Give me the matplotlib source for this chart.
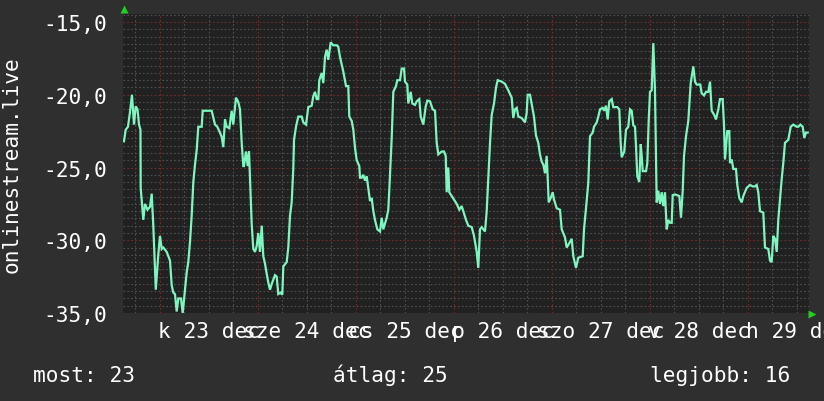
import numpy as np
import matplotlib
matplotlib.use("Agg")
import matplotlib.pyplot as plt
from matplotlib.ticker import FuncFormatter
from matplotlib.transforms import offset_copy

# hours relative to Dec 23 00:00
hours = [
    -8.82, -8.40, -7.84, -7.35, -6.86, -6.37, -5.95, -5.51, -5.14, -4.78, -4.73,
    -4.09, -3.67, -3.06, -2.45, -2.03, -1.64, -1.03, -0.42, 0.00, 0.42, 0.81,
    1.64, 2.45, 2.87, 3.26, 3.67, 4.09, 4.48, 5.14, 5.56, 6.12, 6.54, 6.93,
    7.35, 7.76, 8.16, 8.57, 8.99, 9.38, 10.21, 10.46, 12.66, 13.47, 14.03,
    14.69, 15.11, 15.50, 15.92, 16.33, 16.97, 17.56, 17.95, 18.61, 19.18,
    19.59, 20.01, 20.40, 20.57, 21.06, 21.48, 21.80, 22.46, 22.85, 23.27,
    23.68, 24.07, 24.49, 24.91, 25.30, 25.71, 26.13, 26.52, 26.94, 27.36,
    27.75, 28.16, 28.58, 28.97, 29.56, 29.95, 30.20, 31.03, 31.42, 31.84,
    32.25, 32.64, 32.82, 33.31, 33.87, 34.70, 35.09, 35.76, 36.32, 37.15,
    37.54, 37.96, 38.38, 38.77, 39.01, 39.60, 39.99, 40.41, 40.82, 41.22,
    41.80, 42.44, 43.27, 43.66, 44.08, 44.89, 45.55, 46.11, 46.36, 46.95,
    47.34, 47.76, 48.17, 48.81, 48.98, 49.40, 49.79, 50.20, 50.62, 51.01,
    51.43, 51.85, 52.24, 52.65, 53.22, 53.88, 54.30, 54.69, 55.52, 55.91,
    56.16, 56.74, 57.14, 57.80, 58.11, 58.78, 59.19, 59.76, 60.00, 60.56,
    60.81, 61.40, 61.79, 62.45, 62.87, 63.50, 63.85, 64.48, 65.07, 65.47,
    66.12, 66.78, 67.35, 67.76, 68.16, 68.99, 69.55, 69.97, 70.21, 70.60,
    70.85, 71.44, 72.00, 72.66, 73.30, 73.89, 74.28, 74.94, 75.50, 76.34,
    76.90, 77.56, 77.95, 78.37, 78.78, 79.59, 80.01, 80.40, 80.82, 81.23,
    81.80, 82.29, 82.70, 83.68, 84.49, 85.30, 86.13, 86.52, 86.94, 87.36,
    87.75, 88.58, 89.39, 89.80, 90.04, 90.61, 91.27, 91.59, 92.08, 92.64,
    93.06, 93.48, 93.87, 94.29, 94.70, 94.95, 95.19, 95.68, 96.17, 96.49,
    97.15, 97.96, 98.38, 99.18, 99.60, 100.24, 100.82, 101.22, 101.88,
    102.44, 103.52, 103.84, 104.33, 104.89, 105.31, 105.97, 106.29, 106.95,
    107.34, 107.76, 108.42, 108.81, 109.22, 109.64, 110.03, 110.62, 111.01,
    111.99, 112.48, 112.82, 113.07, 113.70, 114.12, 114.68, 115.10, 115.51,
    115.91, 116.33, 116.57, 116.89, 117.38, 117.73, 117.97, 118.22, 119.03,
    119.34, 119.68, 120.00, 120.41, 120.81, 121.22, 121.64, 122.03, 122.45,
    122.87, 123.26, 123.67, 124.09, 124.48, 124.90, 125.32, 125.56, 126.12,
    127.18, 127.59, 128.01, 128.33, 128.82, 129.38, 129.97, 130.61, 131.02,
    131.44, 132.32, 132.66, 133.23, 133.72, 134.28, 134.70, 135.11, 135.75,
    136.16, 136.73, 137.14, 137.80, 138.12, 138.37, 138.93, 139.42, 139.59,
    140.01, 140.40, 141.06, 141.38, 141.87, 142.46, 142.85, 143.68, 144.49,
    145.15, 145.71, 146.13, 146.52, 146.94, 147.75, 148.16, 148.97, 149.39,
    149.80, 150.20, 150.61, 151.03, 151.42, 151.84, 152.25, 152.64, 153.06,
    153.87, 154.46, 155.09, 155.93, 156.32, 156.81, 157.40, 157.79, 158.21,
    158.62,
]

values = [
    -23.2, -22.4, -22.2, -21.2, -20.0, -22.05, -20.8, -21.0, -22.05, -22.4, -26.4,
    -28.6, -27.5, -27.9, -27.7, -26.8, -29.0, -33.4, -31.0, -29.7, -30.6, -30.5,
    -30.8, -31.4, -33.1, -33.6, -33.7, -34.9, -34.0, -34.0, -35.0, -33.4, -32.2, -31.5,
    -30.1, -28.3, -26.0, -24.8, -23.8, -22.2, -22.2, -21.1, -21.1, -22.05, -22.2,
    -22.6, -22.9, -23.6, -21.7, -22.2, -22.3, -21.1, -22.05, -20.2, -20.5,
    -21.0, -23.3, -24.9, -24.9, -23.9, -24.9, -23.9, -28.9, -30.6, -30.8,
    -30.4, -29.5, -30.8, -29.0, -31.1, -31.6, -32.3, -32.9, -33.4, -33.0,
    -32.7, -32.4, -32.5, -33.7, -33.6, -33.75, -31.8, -31.5, -30.5, -28.3,
    -27.4, -25.1, -23.1, -22.2, -21.5, -21.5, -21.9, -22.05, -20.85, -20.75,
    -20.1, -19.8, -20.3, -20.3, -19.0, -18.5, -19.2, -17.4, -16.9, -17.6,
    -16.4, -16.6, -16.6, -16.7, -17.4, -18.4, -19.4, -19.4, -21.5, -21.8,
    -22.4, -23.65, -24.5, -24.9, -25.7, -25.7, -25.5, -25.9, -25.6, -26.4,
    -27.3, -27.1, -28.0, -28.6, -29.25, -29.4, -28.45, -29.25, -28.45, -27.9,
    -26.5, -23.0, -19.8, -19.4, -19.0, -19.0, -18.2, -18.2, -19.1, -19.3,
    -20.6, -19.8, -20.6, -20.7, -20.45, -20.3, -21.5, -22.05, -20.8, -20.4,
    -20.45, -21.0, -21.1, -23.3, -24.1, -23.9, -23.9, -24.2, -26.7, -25.0,
    -26.7, -26.96, -27.2, -27.5, -27.9, -27.65, -28.0, -28.6, -29.0, -29.1,
    -29.7, -30.8, -31.9, -29.25, -29.1, -29.4, -28.0, -25.7, -23.3, -21.4,
    -20.6, -19.5, -19.0, -19.1, -19.25, -19.7, -20.2, -21.6, -21.0, -20.9,
    -21.5, -21.6, -21.9, -21.25, -20.0, -20.0, -21.0, -21.5, -22.8, -23.3,
    -24.1, -24.6, -24.8, -25.4, -24.2, -25.7, -27.4, -27.1, -26.7, -27.2,
    -27.8, -27.9, -29.25, -29.8, -30.5, -30.2, -29.9, -31.1, -31.9,
    -31.2, -31.1, -29.25, -27.8, -26.05, -22.85, -22.6, -22.2, -21.9,
    -21.5, -21.0, -20.9, -21.1, -20.75, -21.7, -20.45, -20.3, -20.85,
    -20.85, -21.0, -23.3, -24.3, -23.9, -22.4, -22.2, -21.0, -21.1,
    -22.1, -22.2, -23.5, -25.6, -26.0, -23.4, -24.2, -25.25, -25.25,
    -24.7, -21.8, -19.8, -19.7, -16.45, -19.7, -27.4, -26.6, -27.5,
    -26.7, -27.65, -26.7, -29.25, -28.6, -28.8, -28.8, -26.9, -26.85,
    -26.96, -28.45, -26.6, -24.2, -22.85, -21.8, -19.2, -18.05, -19.1,
    -19.3, -19.3, -19.9, -20.05, -19.8, -19.8, -19.1, -21.1, -21.4,
    -21.7, -21.0, -20.3, -20.3, -22.05, -24.45, -22.5, -22.5, -24.7,
    -24.45, -25.1, -25.1, -26.2, -27.1, -27.4, -26.96, -26.4, -26.2,
    -26.3, -26.3, -26.2, -26.7, -28.0, -28.1, -30.5, -30.6, -31.4,
    -31.5, -29.7, -29.9, -30.8, -28.6, -27.2, -25.8, -24.7, -23.3,
    -23.1, -22.2, -22.05, -22.2, -22.2, -22.05, -22.2, -22.97, -22.6,
    -22.6,
]

day_labels = ["k 23 dec", "sze 24 dec", "cs 25 dec", "p 26 dec",
              "szo 27 dec", "v 28 dec", "h 29 dec"]
y_major = [-35, -30, -25, -20, -15]
ylabel_text = "onlinestream.live"
footer = [("most: 23", 33), ("átlag: 25", 333), ("legjobb: 16", 650)]

W, H = 824, 402
BG = "#2f2f2f"
PLOT_BG = "#212121"
MINOR = "#505050"
MAJOR = "#6e2e2e"
LINE = "#7ff5c0"
FONT = "DejaVu Sans Mono"
FS = 15.2

fig = plt.figure(figsize=(W / 100, H / 100), dpi=100, facecolor=BG)
ax = fig.add_axes([123 / W, 1 - 314 / H, (809 - 123) / W, (314 - 15) / H])
ax.set_facecolor(PLOT_BG)
ax.set_xlim(-9.06, 158.94)
ax.set_ylim(-35, -14.45)

for s in ax.spines.values():
    s.set_visible(False)

dots = (0, (1.5, 2.0))
# minor grid
xmin = [h for h in np.arange(-6, 160, 6) if h % 24 != 0]
for h in xmin:
    ax.axvline(h, color=MINOR, lw=0.8, ls=dots, zorder=1)
ymin = [v for v in np.arange(-35, -14.4, 0.5) if v % 5 != 0]
for v in ymin:
    ax.axhline(v, color=MINOR, lw=0.8, ls=dots, zorder=1)
# major grid
for h in np.arange(0, 168, 24):
    ax.axvline(h, color=MAJOR, lw=0.8, ls=dots, zorder=1.5)
for v in y_major:
    ax.axhline(v, color=MAJOR, lw=0.8, ls=dots, zorder=1.5)

ax.plot(hours, values, color=LINE, lw=1.6, zorder=3, solid_joinstyle="miter")

ax.set_yticks(y_major)
ax.yaxis.set_major_formatter(FuncFormatter(lambda v, p: f"{v:.1f}".replace(".", ",")))
ax.set_xticks(np.arange(12, 168, 24))
ax.set_xticklabels(day_labels)
ax.tick_params(axis="both", length=0, colors="white", labelsize=FS)
ax.tick_params(axis="y", pad=11.5)
ax.tick_params(axis="x", pad=6)
for lab in ax.get_xticklabels() + ax.get_yticklabels():
    lab.set_fontfamily(FONT)

fig.text(12 / W, 1 - 165 / H, ylabel_text, rotation=90, ha="center", va="center",
         color="white", fontsize=FS, family=FONT)
for txt, x in footer:
    fig.text(x / W, 1 - 382 / H, txt, ha="left", va="baseline",
             color="white", fontsize=FS, family=FONT)

# arrows
t_top = offset_copy(ax.transAxes, fig=fig, x=1, y=5, units="dots")
ax.plot([0], [1], marker="^", ms=6, color="#20d020", mec="none",
        transform=t_top, clip_on=False, zorder=5)
t_right = offset_copy(ax.transAxes, fig=fig, x=3, y=-1, units="dots")
ax.plot([1], [0], marker=">", ms=6, color="#20d020", mec="none",
        transform=t_right, clip_on=False, zorder=5)

fig.savefig("out.png", dpi=100, facecolor=BG)
